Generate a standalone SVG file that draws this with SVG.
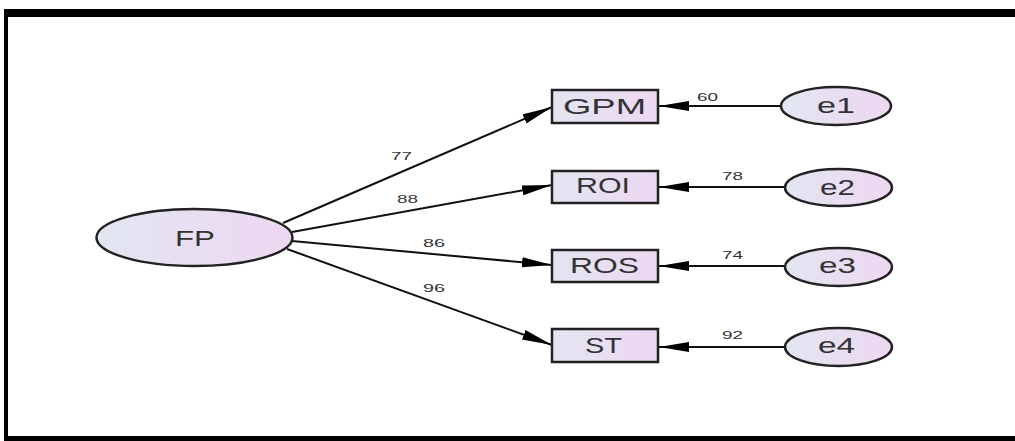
<svg xmlns="http://www.w3.org/2000/svg" width="1015" height="441" viewBox="0 0 1015 441">
<defs>
<linearGradient id="g" x1="0" y1="0" x2="1" y2="0">
<stop offset="0" stop-color="#e2e6f1"/>
<stop offset="1" stop-color="#eed7f2"/>
</linearGradient>
<marker id="ah" markerUnits="userSpaceOnUse" markerWidth="30" markerHeight="12" refX="30" refY="5" orient="auto">
<path d="M0,0 L30,5 L0,10 Z" fill="#000"/>
</marker>
<style>
.n{fill:url(#g);stroke:#222;stroke-width:2.5}
.t{font-family:"Liberation Sans",Arial,sans-serif;font-size:22px;fill:#333}
.l{font-family:"Liberation Sans",Arial,sans-serif;font-size:11px;fill:#333}
.c{stroke:#111;stroke-width:2;fill:none;marker-end:url(#ah)}
</style>
</defs>
<rect width="1015" height="441" fill="#fff"/>
<g id="frame" fill="#000">
<rect x="4" y="9" width="1011" height="8"/>
<rect x="4" y="9" width="4" height="432"/>
<rect x="4" y="436" width="1011" height="5"/>
</g>
<g id="connectors">
<line class="c" x1="283" y1="223" x2="552" y2="107"/>
<line class="c" x1="292" y1="232" x2="552" y2="185"/>
<line class="c" x1="292" y1="241" x2="552" y2="265"/>
<line class="c" x1="287" y1="249" x2="552" y2="345"/>
<line class="c" x1="781" y1="106" x2="659" y2="106"/>
<line class="c" x1="785" y1="187" x2="659" y2="187"/>
<line class="c" x1="785" y1="266" x2="659" y2="266"/>
<line class="c" x1="785" y1="347" x2="659" y2="347"/>
<text class="l" x="391" y="160" textLength="21" lengthAdjust="spacingAndGlyphs">77</text>
<text class="l" x="397" y="203" textLength="21" lengthAdjust="spacingAndGlyphs">88</text>
<text class="l" x="423" y="247" textLength="22" lengthAdjust="spacingAndGlyphs">86</text>
<text class="l" x="423" y="292" textLength="22" lengthAdjust="spacingAndGlyphs">96</text>
<text class="l" x="697" y="101" textLength="21" lengthAdjust="spacingAndGlyphs">60</text>
<text class="l" x="722" y="180" textLength="21" lengthAdjust="spacingAndGlyphs">78</text>
<text class="l" x="722" y="259" textLength="21" lengthAdjust="spacingAndGlyphs">74</text>
<text class="l" x="722" y="339" textLength="21" lengthAdjust="spacingAndGlyphs">92</text>
</g>
<g id="FP"><ellipse class="n" cx="194.5" cy="237.5" rx="98" ry="28.5"/><text class="t" x="175" y="246" textLength="40" lengthAdjust="spacingAndGlyphs">FP</text></g>
<g id="GPM"><rect class="n" x="552" y="90" width="106" height="33"/><text class="t" x="563" y="114" textLength="83" lengthAdjust="spacingAndGlyphs">GPM</text></g>
<g id="ROI"><rect class="n" x="552" y="171" width="106" height="32"/><text class="t" x="576" y="193" textLength="54" lengthAdjust="spacingAndGlyphs">ROI</text></g>
<g id="ROS"><rect class="n" x="552" y="250" width="106" height="32"/><text class="t" x="570" y="273" textLength="69" lengthAdjust="spacingAndGlyphs">ROS</text></g>
<g id="ST"><rect class="n" x="552" y="329" width="106" height="33"/><text class="t" x="585" y="353" textLength="37" lengthAdjust="spacingAndGlyphs">ST</text></g>
<g id="e1"><ellipse class="n" cx="836" cy="106" rx="55" ry="19"/><text class="t" x="817" y="113" textLength="38" lengthAdjust="spacingAndGlyphs">e1</text></g>
<g id="e2"><ellipse class="n" cx="838.5" cy="187.5" rx="53.5" ry="18.5"/><text class="t" x="820" y="195" textLength="35" lengthAdjust="spacingAndGlyphs">e2</text></g>
<g id="e3"><ellipse class="n" cx="838.5" cy="267" rx="53.5" ry="19"/><text class="t" x="819" y="273" textLength="37" lengthAdjust="spacingAndGlyphs">e3</text></g>
<g id="e4"><ellipse class="n" cx="838.5" cy="347" rx="53.5" ry="19"/><text class="t" x="818" y="353" textLength="37" lengthAdjust="spacingAndGlyphs">e4</text></g>
</svg>
